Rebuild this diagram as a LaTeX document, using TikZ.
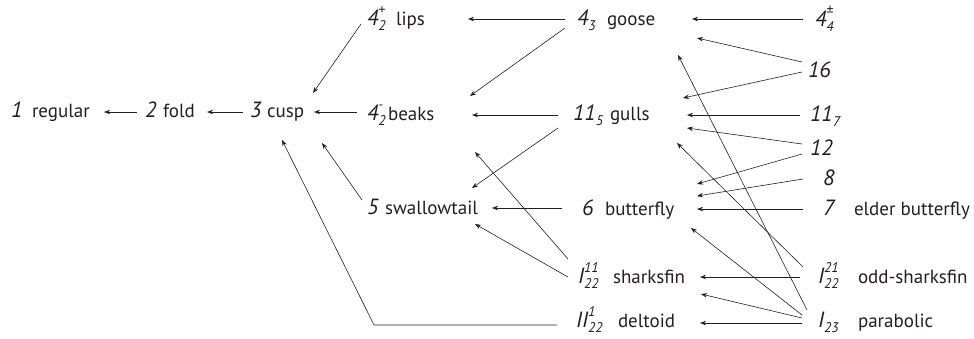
\documentclass[tikz,border=0pt]{standalone}
\usepackage{fontspec}
\setmainfont{PT Sans}
\usetikzlibrary{arrows.meta}
\definecolor{ink}{RGB}{35,31,32}
\newcommand\nmr[1]{{\fontsize{22}{22}\selectfont\itshape #1}}
\newcommand\sbs[1]{{\fontsize{14}{14}\selectfont\itshape #1}}
\newcommand\SubI[1]{\raisebox{-5pt}{\sbs{#1}}}
\newcommand\SupSub[2]{\rlap{\raisebox{11pt}{\sbs{#1}}}\raisebox{-5pt}{\sbs{#2}}}
\newcommand\lbl[3]{\makebox[#1pt][l]{#2}#3}
\begin{document}
\begin{tikzpicture}[x=1pt,y=-1pt,
  lab/.style={anchor=base west, inner sep=0pt, outer sep=0pt, text=ink, font=\fontsize{19}{19}\selectfont},
  arr/.style={-{Stealth[length=6pt,width=4.5pt]}, draw=ink, line width=0.6pt}]
\useasboundingbox (0,0) rectangle (974,338);
% labels
\node[lab] (n1) at (11,117) {\lbl{21}{\nmr{1}}{regular}};
\node[lab] (n2) at (145,117) {\lbl{18}{\nmr{2}}{fold}};
\node[lab] (n3) at (250,117) {\lbl{17}{\nmr{3}}{cusp}};
\node[lab] (lips) at (367,25) {\lbl{29}{\nmr{4}\SupSub{+}{2}}{lips}};
\node[lab] (beaks) at (367,120) {\lbl{21}{\nmr{4}\SupSub{-}{2}}{beaks}};
\node[lab] (swal) at (367,214) {\lbl{18}{\nmr{5}}{swallowtail}};
\node[lab] (goose) at (577,25) {\lbl{30}{\nmr{4}\SubI{3}}{goose}};
\node[lab] (gulls) at (573,120) {\lbl{37}{\nmr{11}\SubI{5}}{gulls}};
\node[lab] (butt) at (582,215) {\lbl{23}{\nmr{6}}{butterfly}};
\node[lab] (shark) at (578,283) {\lbl{35}{\nmr{I}\SupSub{11}{22}}{sharksfin}};
\node[lab] (delt) at (576,327) {\lbl{42}{\nmr{II}\SupSub{1}{22}}{deltoid}};
\node[lab] (q44) at (815,26) {\nmr{4}\SupSub{\textpm}{4}};
\node[lab] (q16) at (808,77) {\nmr{16}};
\node[lab] (q117) at (810,121) {\nmr{11}\SubI{7}};
\node[lab] (q12) at (810,155) {\nmr{12}};
\node[lab] (q8) at (823,185) {\nmr{8}};
\node[lab] (q7) at (823,215) {\lbl{31}{\nmr{7}}{elder butterfly}};
\node[lab] (odd) at (818,283) {\lbl{40}{\nmr{I}\SupSub{21}{22}}{odd-sharksfin}};
\node[lab] (para) at (818,327) {\lbl{40}{\nmr{I}\SubI{23}}{parabolic}};
% connector ends
\coordinate (a1s) at (137,112); \coordinate (a1e) at (104,112);
\coordinate (a2s) at (243,112); \coordinate (a2e) at (207,112);
\coordinate (a3s) at (357,112); \coordinate (a3e) at (314,112);
\coordinate (a4s) at (361,24);  \coordinate (a4e) at (313,93);
\coordinate (a5s) at (362,200); \coordinate (a5e) at (322,143);
\coordinate (a6s) at (557,325); \coordinate (a6m) at (374,325); \coordinate (a6e) at (282,140);
\coordinate (b1s) at (565,19);  \coordinate (b1e) at (468,19);
\coordinate (b2s) at (565,28);  \coordinate (b2e) at (470,96);
\coordinate (b3s) at (558,115); \coordinate (b3e) at (472,115);
\coordinate (b4s) at (558,128); \coordinate (b4e) at (472,188);
\coordinate (b5s) at (562,208); \coordinate (b5e) at (492,208);
\coordinate (b6s) at (568,259); \coordinate (b6e) at (475,152);
\coordinate (b7s) at (568,277); \coordinate (b7e) at (475,224);
\coordinate (c1s) at (803,19);  \coordinate (c1e) at (692,19);
\coordinate (c2s) at (802,62);  \coordinate (c2e) at (697,38);
\coordinate (c3s) at (802,72);  \coordinate (c3e) at (683,98);
\coordinate (c4s) at (800,115); \coordinate (c4e) at (687,115);
\coordinate (c5s) at (802,144); \coordinate (c5e) at (687,128);
\coordinate (c6s) at (802,154); \coordinate (c6e) at (697,184);
\coordinate (c7s) at (803,179); \coordinate (c7e) at (697,196);
\coordinate (c8s) at (803,209); \coordinate (c8e) at (697,209);
\coordinate (c9s) at (803,267); \coordinate (c9e) at (677,143);
\coordinate (d1s) at (800,277); \coordinate (d1e) at (700,277);
\coordinate (d2s) at (807,310); \coordinate (d2e) at (678,55);
\coordinate (d3s) at (802,315); \coordinate (d3e) at (691,228);
\coordinate (d4s) at (802,318); \coordinate (d4e) at (701,294);
\coordinate (d5s) at (802,323); \coordinate (d5e) at (700,323);
% connectors
\foreach \c in {a1,a2,a3,a4,a5,b1,b2,b3,b4,b5,b6,b7,c1,c2,c3,c4,c5,c6,c7,c8,c9,d1,d2,d3,d4,d5}
  \draw[arr] (\c s) -- (\c e);
\draw[arr] (a6s) -- (a6m) -- (a6e);
\end{tikzpicture}
\end{document}
